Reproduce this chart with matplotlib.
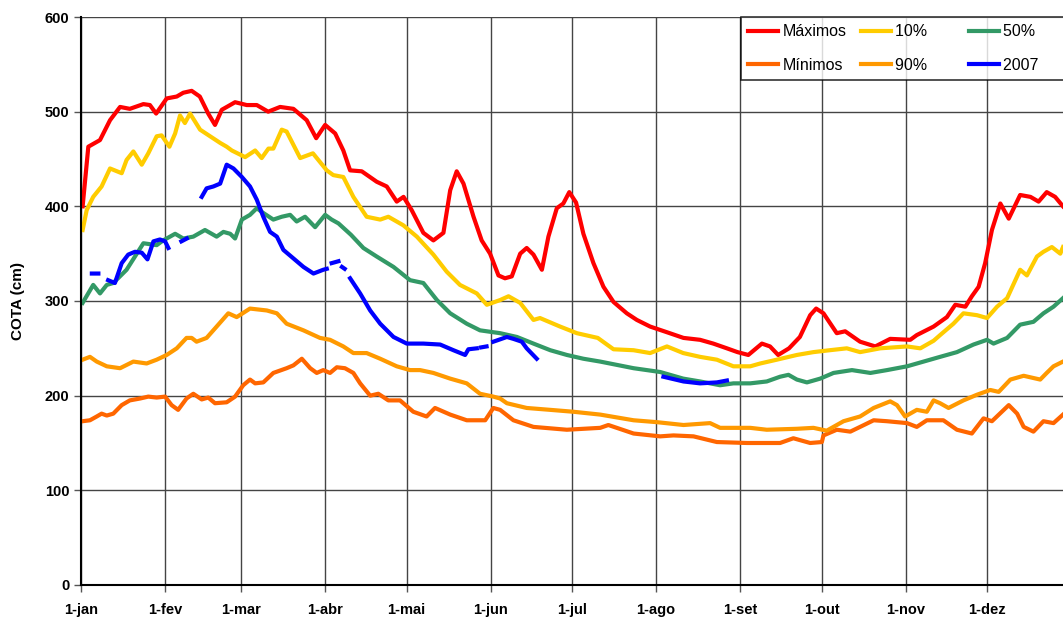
import matplotlib
matplotlib.use("Agg")
import matplotlib.pyplot as plt
import numpy as np

plt.rcParams["font.family"] = ["Liberation Sans", "DejaVu Sans"]

MONTH_DAYS = [0, 31, 59, 90, 120, 151, 181, 212, 243, 273, 304, 334]
MONTH_LABELS = ["1-jan", "1-fev", "1-mar", "1-abr", "1-mai", "1-jun",
                "1-jul", "1-ago", "1-set", "1-out", "1-nov", "1-dez"]

# day of year (0 = 1-jan), level in cm
max_day = [0.6, 2.7, 7, 10.7, 14.4, 18, 23, 25.4, 27.7, 31.6, 35.3, 37.7, 40.8, 43.8,
           46.9, 49.4, 51.9, 56.8, 61.1, 64.8, 69, 73.4, 78.3, 83.2, 86.7, 90, 93.7,
           96.7, 99.2, 103.5, 109, 112.7, 116.4, 118.9, 121.9, 126.2, 129.9, 133.6,
           136.1, 138.5, 141, 144.7, 147.7, 150.8, 153.9, 156.3, 158.8, 161.9, 164.3,
           166.8, 169.9, 172.3, 175.4, 177.8, 180, 182.5, 185.2, 188.9, 192.6, 196.3,
           201.2, 204.9, 209.8, 216, 222.1, 228.2, 233.1, 238.1, 242, 246, 251, 254,
           257, 261, 265, 268.8, 271, 273.7, 278.6, 281.7, 287.2, 292.8, 298.3, 305.7,
           308.1, 314.3, 319.2, 322.3, 326, 328.4, 330.9, 333.3, 335.8, 338.9, 342,
           346.2, 350, 353, 356, 359.1, 362]
max_val = [400, 463, 470, 491, 505, 503, 508, 507, 498, 514, 516, 520, 522, 516,
           498, 486, 502, 510, 507, 507, 500, 505, 503, 491, 472, 486, 477,
           459, 438, 437, 426, 421, 405, 410, 396, 372, 364, 372,
           417, 437, 424, 389, 364, 350, 327, 324, 326, 350, 356,
           349, 333, 368, 398, 403, 415, 404, 371, 340, 315, 299,
           287, 280, 273, 267, 261, 259, 255, 250, 246, 243, 255, 252,
           243, 250, 262, 285, 292, 287, 266, 268, 257, 252, 260, 259,
           264, 273, 283, 296, 294, 305, 315, 340, 375, 403, 387,
           412, 410, 405, 415, 410, 400]

p10_day = [0.6, 2.1, 4.5, 7.6, 10.7, 15, 16.8, 19.3, 22.4, 24.8, 27.9, 29.7, 32.6,
           34.7, 36.5, 38.3, 40.2, 43.9, 47.6, 51.3, 53.7, 55.6, 60.5, 64.2, 66.6,
           69.1, 70.9, 74, 75.8, 80.8, 85.5, 90.6, 93, 96.7, 100.4, 105.3, 110.3,
           113.3, 118.8, 123.8, 129.9, 134.8, 139.7, 145.9, 149.6, 154.5, 157.6,
           161.9, 166.8, 169.2, 176.6, 182.8, 190.5, 196.3, 203.7, 209.8, 216,
           222, 228.2, 234.4, 240.5, 246.7, 250.4, 256.5, 263.9, 270, 276, 282.3,
           287.2, 294.6, 304.5, 309.4, 314.3, 316.7, 321.6, 325.3, 330.3, 334,
           337.7, 341.4, 346.2, 348.7, 352.4, 354.8, 357.9, 361, 362]
p10_val = [375, 396, 410, 421, 440, 435, 449, 458, 444, 456, 474, 475, 463,
           477, 496, 488, 498, 481, 474, 467, 463, 459, 452, 459, 451,
           461, 461, 481, 479, 451, 456, 438, 433, 431, 410, 389, 386,
           389, 380, 368, 349, 331, 317, 308, 296, 301, 305,
           298, 280, 282, 273, 266, 261, 249, 248, 245, 252,
           245, 241, 238, 231, 231, 234, 238, 243, 246, 248, 250,
           246, 250, 252, 250, 258, 264, 276, 287, 285, 282,
           294, 303, 333, 327, 347, 352, 357, 350, 357]

p50_day = [0.6, 4.5, 7, 9.5, 11.9, 16.8, 23, 27.9, 30.3, 34.7, 37.7, 41.4, 45.7,
           50, 52.5, 55, 56.8, 59.3, 62.3, 64.8, 67.2, 70.9, 74, 77.1, 79.5, 82.6,
           86.3, 90, 92.4, 94.9, 99.5, 104.1, 109, 115.2, 121.3, 126.2, 131.2,
           136.1, 142.2, 147.1, 154.5, 160.7, 166.8, 173, 179.1, 185.2, 191.4,
           203.7, 213.5, 222, 228.2, 235.6, 240.5, 246.7, 252.8, 257.7, 260.8,
           263.9, 267.6, 272.5, 277.4, 284.2, 291, 297.1, 304.5, 310.6, 316.7,
           322.9, 329, 334, 336.4, 341.4, 346.2, 351.1, 354.8, 358.5, 362]
p50_val = [298, 317, 308, 317, 319, 333, 361, 359, 364, 371, 366, 368, 375,
           368, 373, 371, 366, 386, 391, 398, 393, 386, 389, 391, 384, 389,
           378, 391, 386, 382, 370, 356, 347, 336, 322, 319, 301,
           287, 276, 269, 266, 262, 255, 248, 243, 239, 236,
           229, 225, 218, 215, 211, 213, 213, 215, 220, 222,
           217, 214, 218, 224, 227, 224, 227, 231, 236, 241,
           246, 254, 259, 255, 261, 275, 278, 287, 294, 303]

p90_day = [0.6, 3.3, 5.8, 9.5, 14.4, 19.3, 24.2, 27.9, 31.6, 35.3, 38.9, 40.8, 42.6,
           46.3, 50, 54.3, 57.4, 62.3, 68.5, 72.2, 75.8, 82, 88.1, 91.8, 96.7,
           100.4, 105.3, 110.3, 116.4, 121.3, 125, 129.9, 136.1, 142.2, 147.1,
           152, 154.5, 157, 164.3, 173, 181.5, 191.4, 203.7, 212.3, 222.1, 231.9,
           235.6, 246.7, 252.8, 263.9, 270, 274.9, 281.1, 287.2, 292.2, 298.3,
           300.8, 303.8, 308.1, 311.8, 314.3, 316.7, 319.8, 325.3, 330.3, 335.2,
           338.3, 342.6, 347.5, 353.6, 356, 358.5, 362]
p90_val = [238, 241, 236, 231, 229, 236, 234, 238, 243, 250, 261, 261, 257,
           261, 273, 287, 283, 292, 290, 287, 276, 269, 261, 259, 252,
           245, 245, 239, 231, 227, 227, 224, 218, 213, 202,
           199, 197, 192, 187, 185, 183, 180, 174, 172, 169, 171,
           166, 166, 164, 165, 166, 163, 173, 178, 187, 194,
           190, 178, 185, 183, 195, 192, 187, 195, 201, 206,
           204, 217, 221, 217, 224, 231, 236]

min_day = [0.6, 3.3, 5.8, 7.6, 9.5, 11.9, 15, 18, 21.8, 24.8, 27.9, 31, 33.4, 35.8,
           38.9, 41.4, 44.5, 46.9, 49.4, 53.7, 56.8, 59.8, 62.3, 64.2, 67.2, 70.9,
           75.8, 78.3, 81.4, 84.5, 86.9, 89.3, 91.8, 94.3, 97.3, 100.4, 102.9,
           106.6, 109.6, 113.3, 117.6, 122.5, 127.4, 130.5, 136.1, 142.2, 149,
           152, 154.5, 159.4, 166.8, 179.1, 191.4, 194.4, 197.5, 203.7, 213.5,
           218.4, 225.8, 234.4, 245.5, 252.8, 257.7, 262.6, 268.8, 273.1, 273.7,
           278.6, 283.6, 287.2, 292.2, 297.1, 304.5, 308.1, 311.8, 317.9, 322.9,
           328.4, 332.7, 335.8, 342, 345.1, 347.5, 351.1, 354.8, 358.5, 362]
min_val = [173, 174, 178, 181, 179, 181, 190, 195, 197, 199, 198, 199, 190, 185,
           197, 202, 196, 198, 192, 193, 199, 211, 217, 213, 214, 224,
           229, 232, 239, 229, 224, 227, 224, 230, 229, 224, 213,
           200, 202, 195, 195, 183, 178, 187, 180, 174, 174,
           187, 185, 174, 167, 164, 166, 169, 166, 160, 157,
           158, 157, 151, 150, 150, 150, 155, 150, 151, 158,
           164, 162, 167, 174, 173, 171, 167, 174, 174, 164,
           160, 176, 173, 190, 181, 167, 162, 173, 171, 180]

# 2007 observed series; None marks missing days
y2007_day = [4, 6.4, None, 10, 12.5, 15, 17.4, 19.9, 22.4, 24.5, 26.7, 29.1, 31, 32.2,
             None, 37, 39, None, 44.5, 46.3, 48.8, 51.3, 53.7, 56.2, 59.3, 62.3, 64.8,
             67.2, 69.7, 72.2, 74.6, 78.3, 82, 85.7, 89.3, 90.6, None, 92.4, 94.9,
             None, 96.2, 97.2, None, 99.2, 102.9, 106.6, 110.3, 115.2, 120.1, 126.2,
             132.4, 137.3, 141.6, 142.8, 145.9, None, 147.5, 149.5, None, 152, 157,
             159.4, 162.5, 164.3, 168, None, 214.7, 222.1, 228.2, 234.4, 238.1]
y2007_val = [329, 329, None, 322, 319, 340, 349, 352, 351, 344, 363, 365, 363, 356,
             None, 363, 366, None, 410, 419, 421, 424, 444, 440, 431, 421, 407,
             389, 373, 368, 354, 345, 336, 329, 333, 334, None, 340, 342,
             None, 336, 334, None, 324, 308, 290, 276, 262, 255, 255,
             254, 248, 243, 249, 250, None, 251, 252, None, 257, 262,
             260, 257, 250, 239, None, 220, 215, 213, 214, 216]


def to_array(values):
    return np.array([np.nan if v is None else v for v in values], dtype=float)


def main():
    fig = plt.figure(figsize=(10.63, 6.21), dpi=100)
    ax = fig.add_axes([0.0762, 0.058, 0.9238, 0.9146])

    lw = 3.0
    h_max, = ax.plot(max_day, max_val, color="#FF0000", lw=lw)
    h_min, = ax.plot(min_day, min_val, color="#FF6600", lw=lw)
    h_10, = ax.plot(p10_day, p10_val, color="#FFCC00", lw=lw)
    h_90, = ax.plot(p90_day, p90_val, color="#FF9900", lw=lw)
    h_50, = ax.plot(p50_day, p50_val, color="#339966", lw=lw)
    h_07, = ax.plot(to_array(y2007_day), to_array(y2007_val), color="#0000FF", lw=lw)

    ax.set_xlim(0, 362)
    ax.set_ylim(0, 600)
    ax.set_xticks(MONTH_DAYS)
    ax.set_xticklabels(MONTH_LABELS, fontsize=10.5, fontweight="bold")
    ax.set_yticks(range(0, 601, 100))
    ax.set_yticklabels([str(v) for v in range(0, 601, 100)], fontsize=10.5,
                       fontweight="bold")
    ax.tick_params(axis="both", direction="out", length=5, width=1, color="#555555")
    ax.tick_params(axis="x", pad=8)
    ax.set_ylabel("COTA (cm)", fontsize=11, fontweight="bold", labelpad=14)

    ax.grid(True, color="#444444", lw=1)
    ax.set_axisbelow(True)
    for side in ["top", "right"]:
        ax.spines[side].set_visible(False)
    ax.spines["left"].set_linewidth(1.5)
    ax.spines["bottom"].set_linewidth(1.5)

    # trailing spaces widen the columns like the original (frame runs off the right edge)
    labels = ["Máximos", "Mínimos", "10%      ", "90%      ", "50%        ", "2007       "]
    leg = ax.legend([h_max, h_min, h_10, h_90, h_50, h_07], labels, ncol=3,
                    loc="upper left", bbox_to_anchor=(0.672, 1.0), fontsize=11.5,
                    frameon=True, fancybox=False, edgecolor="black",
                    handlelength=1.9, handletextpad=0.25, columnspacing=0.9,
                    borderpad=0.45, labelspacing=1.15, borderaxespad=0)
    leg.get_frame().set_linewidth(1.2)
    leg.set_clip_on(False)

    fig.savefig("out.png", dpi=100)


if __name__ == "__main__":
    main()
